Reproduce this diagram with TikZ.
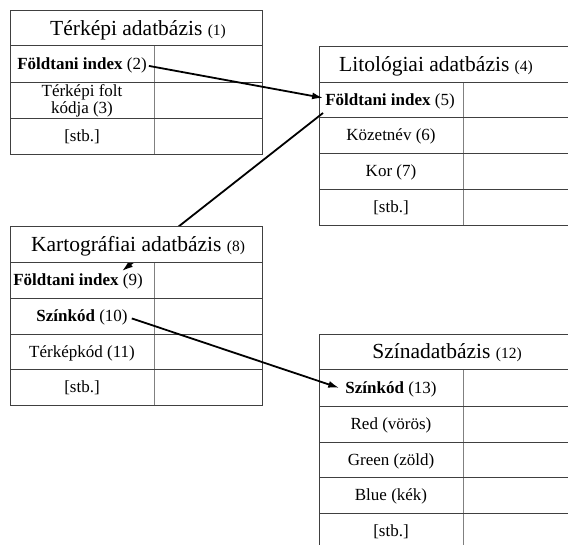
\documentclass[tikz,border=0pt]{standalone}
\usepackage{fontspec}
\setmainfont{Liberation Serif}
\usetikzlibrary{arrows.meta}
\tikzset{
  grid/.style={draw=black!75, line width=1pt},
  coldiv/.style={draw=black!50, line width=0.9pt},
  ttl/.style={anchor=base, inner sep=1pt, font=\fontsize{21.5}{24}\selectfont},
  cell/.style={anchor=base, inner sep=1pt, font=\fontsize{17}{20}\selectfont},
  conn/.style={draw=black, line width=1.8pt, -{Latex[length=11pt,width=7pt]}},
}
\newcommand\tnum[1]{{\fontsize{15.5}{18}\selectfont(#1)}}
\begin{document}
\begin{tikzpicture}[x=1pt,y=-1pt]
\clip (0,0) rectangle (568,544);
\fill[white] (0,0) rectangle (568,544);

% ---------- Table 1: Térképi adatbázis
\draw[coldiv] (154,45) -- (154,154);
\draw[grid] (10,10) rectangle (262,154);
\foreach \y in {45,82,118} \draw[grid] (10,\y) -- (262,\y);
\node[ttl] (t1) at (138,35) {Térképi adatbázis \tnum{1}};
\node[cell] (n2) at (82,69) {\textbf{Földtani index} (2)};
\node[anchor=center, inner sep=1pt, align=center, font=\fontsize{17}{14}\selectfont] (n3) at (82,101) {Térképi folt\\kódja (3)};
\node[cell] (s1) at (82,141.5) {[stb.]};

% ---------- Table 2: Litológiai adatbázis
\draw[coldiv] (463,82) -- (463,225);
\draw[grid] (319,225) -- (319,46) -- (575,46);
\foreach \y in {82,117,153,189,225} \draw[grid] (319,\y) -- (575,\y);
\node[ttl] (t2) at (436,71) {Litológiai adatbázis \tnum{4}};
\node[cell] (n5) at (390,105) {\textbf{Földtani index} (5)};
\node[cell] (n6) at (391,140.5) {Közetnév (6)};
\node[cell] (n7) at (391,176.5) {Kor (7)};
\node[cell] (s2) at (391,212.5) {[stb.]};

% ---------- connector 5 -> 9 (drawn below table 3 title)
\coordinate (c5) at (323,113);
\coordinate (c9) at (122,271);
\draw[conn] (c5) -- (c9);

% ---------- Table 3: Kartográfiai adatbázis
\draw[coldiv] (154,262) -- (154,405);
\draw[grid, fill=white] (10,226) rectangle (262,262);
\draw[grid] (10,226) rectangle (262,405);
\foreach \y in {262,298,334,369} \draw[grid] (10,\y) -- (262,\y);
\node[ttl] (t3) at (138,251) {Kartográfiai adatbázis \tnum{8}};
\node[cell] (n9) at (78,285.5) {\textbf{Földtani index} (9)};
\node[cell] (n10) at (82,321.5) {\textbf{Színkód} (10)};
\node[cell] (n11) at (82,357) {Térképkód (11)};
\node[cell] (s3) at (82,392.5) {[stb.]};

% ---------- Table 4: Színadatbázis
\draw[coldiv] (463,369) -- (463,550);
\draw[grid] (319,550) -- (319,334) -- (575,334);
\foreach \y in {369,406,442,477,513} \draw[grid] (319,\y) -- (575,\y);
\node[ttl] (t4) at (447,358.5) {Színadatbázis \tnum{12}};
\node[cell] (n13) at (391,393) {\textbf{Színkód} (13)};
\node[cell] (n14) at (391,429.5) {Red (vörös)};
\node[cell] (n15) at (391,465) {Green (zöld)};
\node[cell] (n16) at (391,500.5) {Blue (kék)};
\node[cell] (s4) at (391,536) {[stb.]};

% ---------- connectors
\draw[conn] ([shift={(1pt,-1pt)}]n2.east) -- ([shift={(-1pt,3pt)}]n5.west);
\draw[conn] ([shift={(3pt,-1pt)}]n10.east) -- ([shift={(-5pt,1pt)}]n13.west);
\end{tikzpicture}
\end{document}
